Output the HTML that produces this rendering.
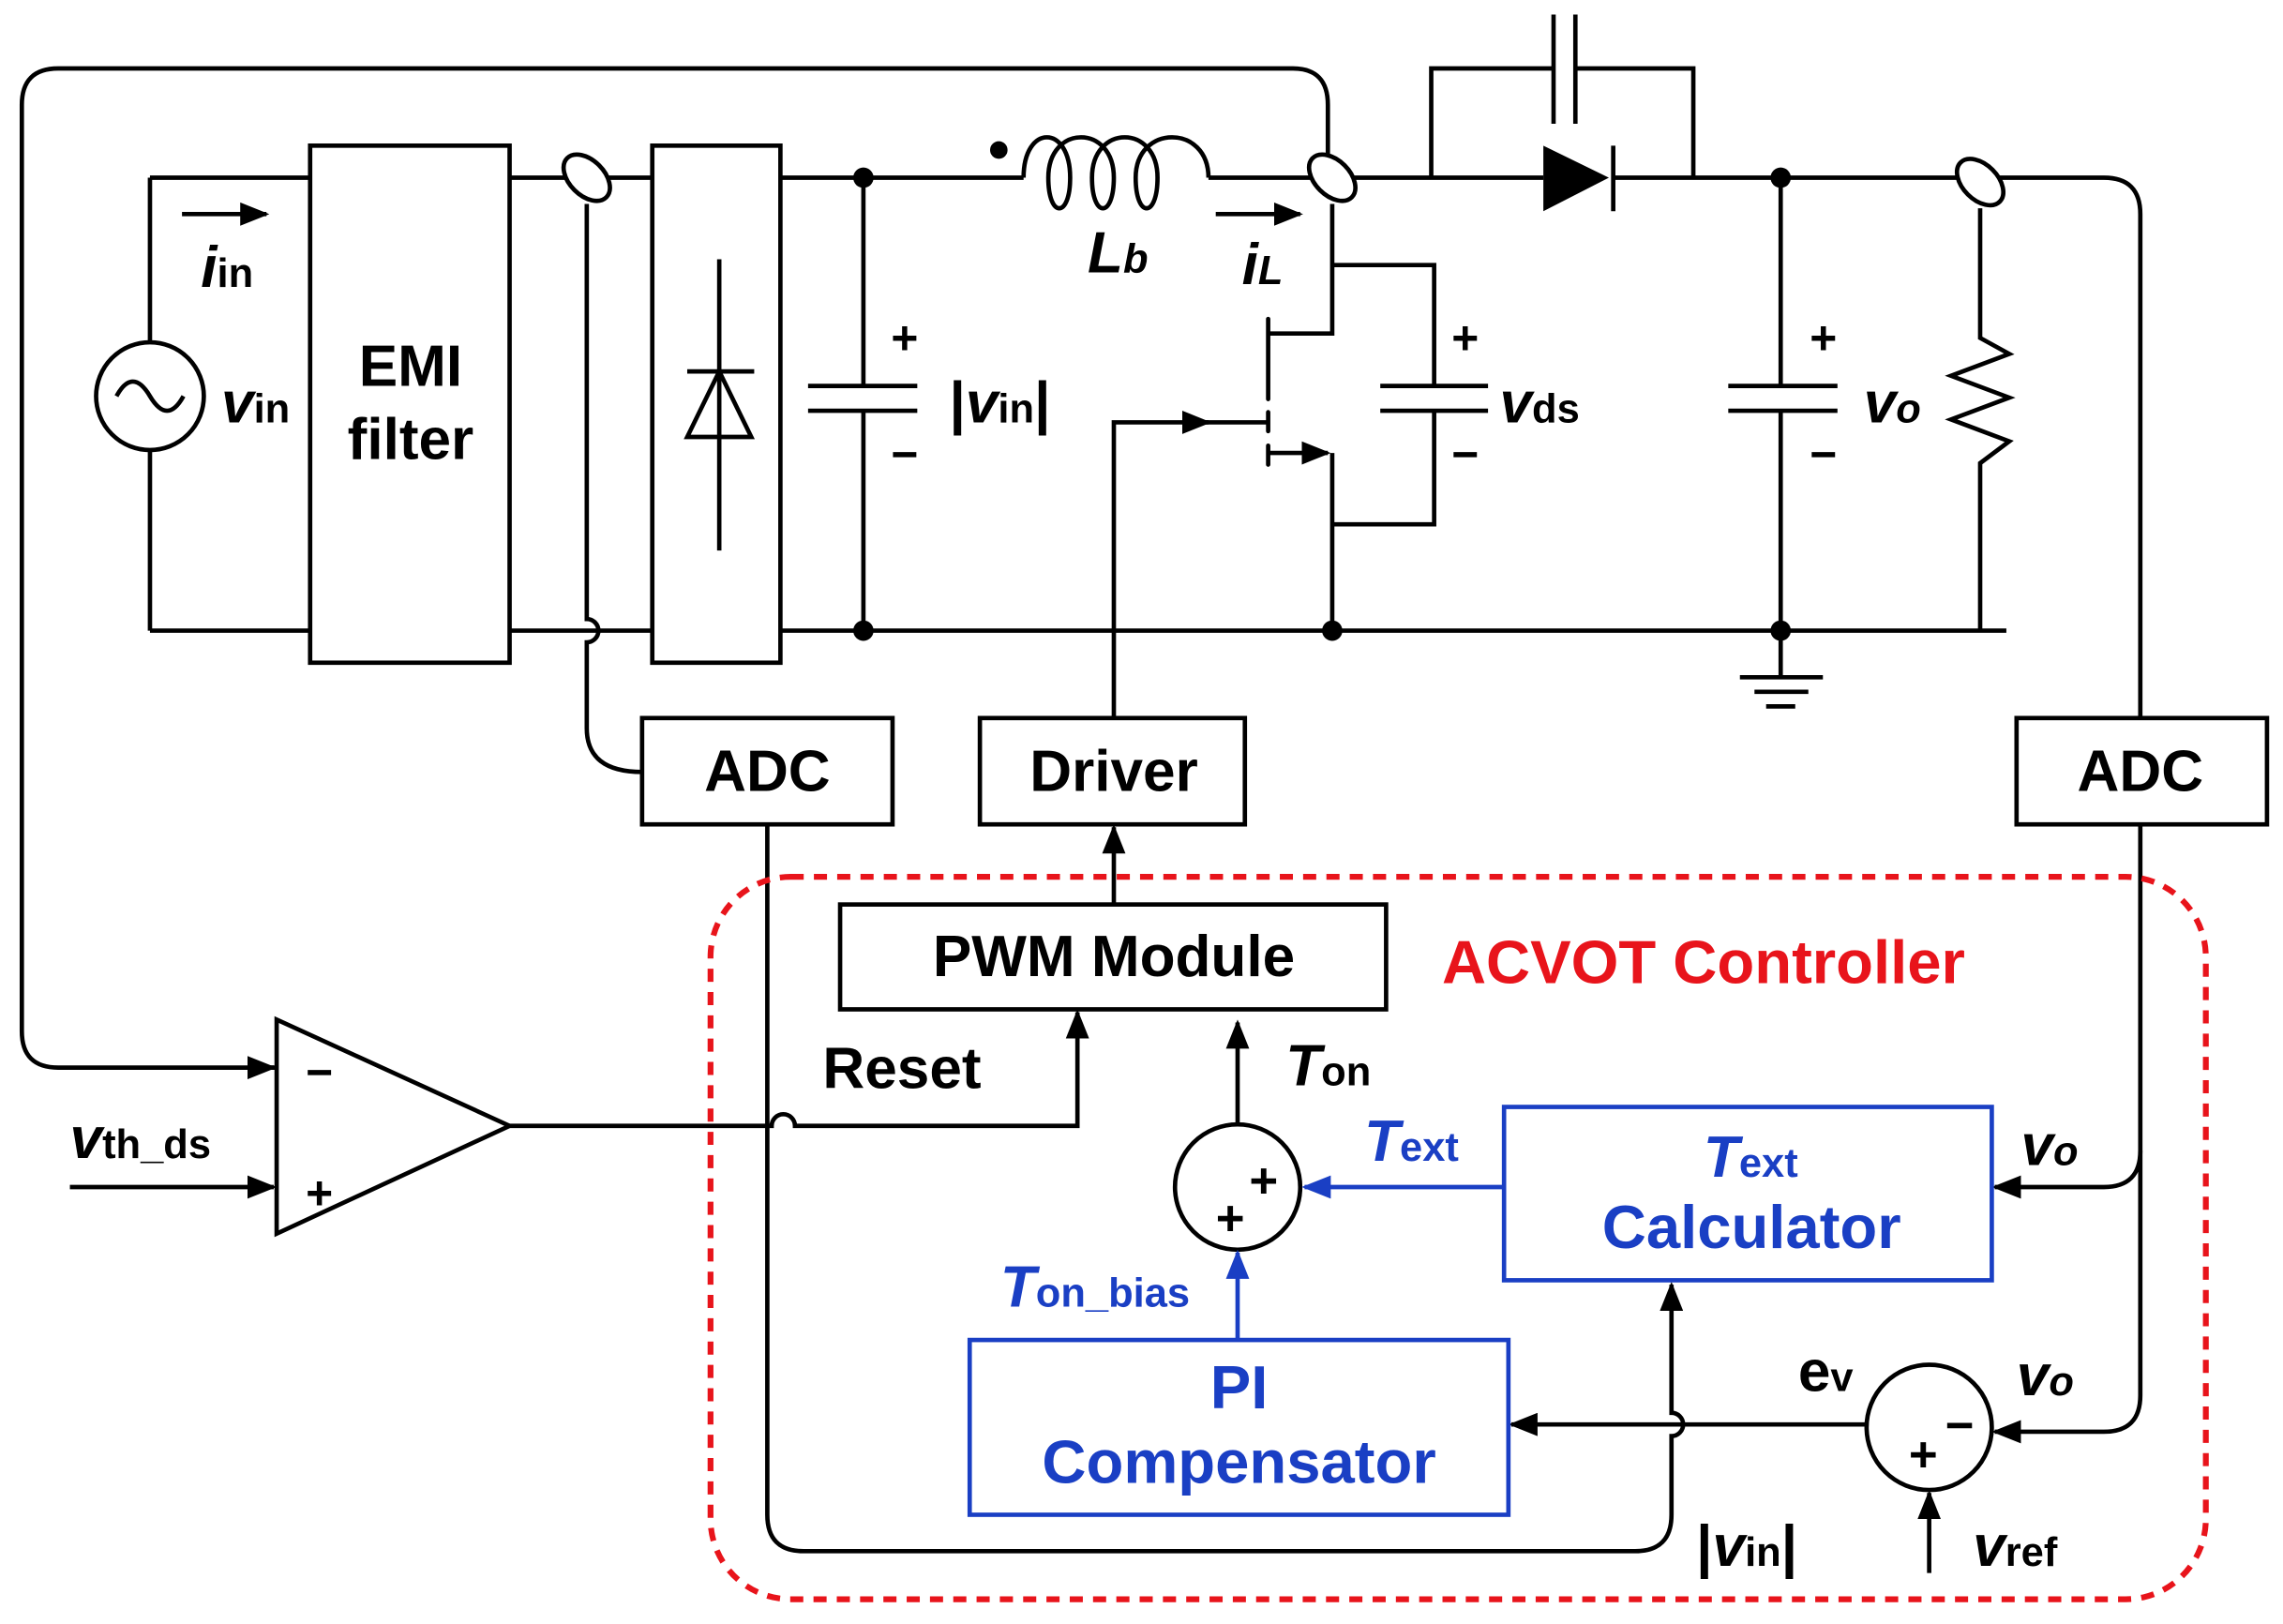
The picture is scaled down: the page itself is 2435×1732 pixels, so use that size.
<!DOCTYPE html>
<html><head><meta charset="utf-8"><style>
html,body{margin:0;padding:0;background:#fff}
svg{display:block}
text{font-family:"Liberation Sans",Arial,sans-serif;font-weight:bold}
</style></head><body>
<svg width="2435" height="1732" viewBox="0 0 1568 1115" preserveAspectRatio="none" xmlns="http://www.w3.org/2000/svg">
<defs>
<marker id="ab" markerWidth="20" markerHeight="16" refX="18" refY="8" orient="auto" markerUnits="userSpaceOnUse"><path d="M0,0 L20,8 L0,16z" fill="#000"/></marker>
<marker id="bb" markerWidth="20" markerHeight="16" refX="18" refY="8" orient="auto" markerUnits="userSpaceOnUse"><path d="M0,0 L20,8 L0,16z" fill="#1a3fc4"/></marker>
</defs>
<g fill="none" stroke="#000" stroke-width="3">
<path d="M190,733 H40 Q15,733 15,708 V72 Q15,47 40,47 H888 Q912,47 912,72 V110"/>
<path d="M103,122 H213 M350,122 H448 M536,122 H703 M830,122 H983 M983,122 V47 H1066 M1082,47 H1163 V122 M983,122 H1060 M1108,122 H1445 Q1470,122 1470,147 V493"/>
<path d="M103,433 H213 M350,433 H448 M536,433 H1378"/>
<path d="M103,122 V235 M103,310 V433"/>
<circle cx="103" cy="272" r="37"/>
<path d="M80,272 Q91,252 103,272 T126,272"/>
<rect x="213" y="100" width="137" height="355"/>
<rect x="448" y="100" width="88" height="355"/>
<path d="M494,178 V378 M472,255 H518"/>
<path d="M494,255 L472,300 H516 Z"/>
<ellipse cx="403" cy="122" rx="12" ry="19" transform="rotate(-45 403 122)" fill="#fff"/>
<path d="M403,140 V425 A8,8 0 0 1 403,441 V500 Q403,530 441,530"/>
<path d="M593,122 V265 M555,265 H630 M555,282 H630 M593,282 V433"/>
<path d="M703,122 C703,85 735,85 735,122 C735,150 720,150 720,122 C720,85 765,85 765,122 C765,150 750,150 750,122 C750,85 795,85 795,122 C795,150 780,150 780,122 C780,85 830,85 830,122"/>
<ellipse cx="915" cy="122" rx="12" ry="19" transform="rotate(-45 915 122)" fill="#fff"/>
<path d="M915,140 V229 H871 M915,182 H985 V265 M948,265 H1022 M948,282 H1022 M985,282 V360 H915 M915,311 V433"/>
<path d="M871,219 V274 M871,283 V296 M871,306 V319" stroke-linecap="round"/>
<path d="M871,311 H912" marker-end="url(#ab)"/>
<path d="M765,493 V290 H830" marker-end="url(#ab)"/>
<path d="M828,290 H871"/>
<path d="M1067,10 V85 M1082,10 V85"/>
<path d="M1108,100 V145"/>
<path d="M1223,122 V265 M1187,265 H1262 M1187,282 H1262 M1223,282 V465 M1195,465 H1252 M1205,475 H1242 M1213,485 H1233"/>
<ellipse cx="1360" cy="125" rx="12" ry="19" transform="rotate(-45 1360 125)" fill="#fff"/>
<path d="M1360,143 V232 L1380,243 L1340,258 L1380,273 L1340,288 L1380,303 L1360,318 V433"/>
<rect x="441" y="493" width="172" height="73"/>
<rect x="673" y="493" width="182" height="73"/>
<rect x="1385" y="493" width="172" height="73"/>
<rect x="577" y="621" width="375" height="72"/>
<path d="M765,621 V568" marker-end="url(#ab)"/>
<path d="M190,700 V847 L350,773 Z"/>
<path d="M48,815 H188" marker-end="url(#ab)"/>
<path d="M170,733 H188" marker-end="url(#ab)"/>
<path d="M350,773 H530 A8,8 0 0 1 546,773 H740 V695" marker-end="url(#ab)"/>
<path d="M527,566 V1040 Q527,1065 552,1065 H1123 Q1148,1065 1148,1040 V986 A8,8 0 0 0 1148,970 V882" marker-end="url(#ab)"/>
<circle cx="850" cy="815" r="43"/>
<path d="M850,772 V702" marker-end="url(#ab)"/>
<path d="M1470,566 V790 Q1470,815 1445,815 H1370" marker-end="url(#ab)"/>
<path d="M1470,790 V958 Q1470,983 1445,983 H1370" marker-end="url(#ab)"/>
<circle cx="1325" cy="980" r="43"/>
<path d="M1325,1080 V1025" marker-end="url(#ab)"/>
<path d="M1282,978 H1038" marker-end="url(#ab)"/>
</g>
<g fill="#000">
<path d="M1060,100 L1105,122 L1060,145 Z"/>
<circle cx="593" cy="122" r="7"/><circle cx="593" cy="433" r="7"/>
<circle cx="915" cy="433" r="7"/><circle cx="1223" cy="122" r="7"/><circle cx="1223" cy="433" r="7"/>
<circle cx="686" cy="103" r="6"/>
</g>
<g stroke="#000" stroke-width="3">
<path d="M125,147 H183" marker-end="url(#ab)"/>
<path d="M835,147 H893" marker-end="url(#ab)"/>
</g>
<g fill="none" stroke="#1a3fc4" stroke-width="3">
<rect x="1033" y="760" width="335" height="119"/>
<rect x="666" y="920" width="370" height="120"/>
<path d="M1033,815 H896" marker-end="url(#bb)"/>
<path d="M850,920 V860" marker-end="url(#bb)"/>
</g>
<rect x="488" y="602" width="1027" height="496" rx="55" fill="none" stroke="#e8141b" stroke-width="4" stroke-dasharray="9,7"/>
<g font-size="40">
<text x="282" y="265" text-anchor="middle">EMI</text>
<text x="282" y="315" text-anchor="middle">filter</text>
<text x="527" y="543" text-anchor="middle">ADC</text>
<text x="765" y="543" text-anchor="middle">Driver</text>
<text x="1470" y="543" text-anchor="middle">ADC</text>
<text x="765" y="670" text-anchor="middle">PWM Module</text>
<text x="565" y="747">Reset</text>
<text x="1170" y="675" text-anchor="middle" fill="#e8141b" font-size="42">ACVOT Controller</text>
<text x="612" y="243" font-size="32">+</text>
<text x="612" y="323" font-size="32">−</text>
<text x="997" y="243" font-size="32">+</text>
<text x="997" y="323" font-size="32">−</text>
<text x="1243" y="243" font-size="32">+</text>
<text x="1243" y="323" font-size="32">−</text>
<text x="210" y="747" font-size="32">−</text>
<text x="210" y="830" font-size="32">+</text>
<text x="858" y="822" font-size="34">+</text>
<text x="835" y="848" font-size="34">+</text>
<text x="1336" y="990" font-size="34">−</text>
<text x="1311" y="1010" font-size="34">+</text>
<text x="138" y="197" font-style="italic">i<tspan font-style="normal" font-size="28">in</tspan></text>
<text x="152" y="290" font-style="italic">v<tspan font-style="normal" font-size="28">in</tspan></text>
<text x="652" y="290">|<tspan font-style="italic">v</tspan><tspan font-size="28">in</tspan>|</text>
<text x="747" y="187" font-style="italic">L<tspan font-size="28">b</tspan></text>
<text x="853" y="195" font-style="italic">i<tspan font-size="28">L</tspan></text>
<text x="1030" y="290" font-style="italic">v<tspan font-style="normal" font-size="28">ds</tspan></text>
<text x="1280" y="290" font-style="italic">v<tspan font-size="28">o</tspan></text>
<text x="48" y="795" font-style="italic">v<tspan font-style="normal" font-size="28">th_ds</tspan></text>
<text x="883" y="745" font-style="italic">T<tspan font-style="normal" font-size="28">on</tspan></text>
<text x="1388" y="800" font-style="italic">v<tspan font-size="28">o</tspan></text>
<text x="1385" y="958" font-style="italic">v<tspan font-size="28">o</tspan></text>
<text x="1235" y="955">e<tspan font-size="28">v</tspan></text>
<text x="1355" y="1075" font-style="italic">v<tspan font-style="normal" font-size="28">ref</tspan></text>
<text x="1165" y="1075">|<tspan font-style="italic">v</tspan><tspan font-size="28">in</tspan>|</text>
<g fill="#1a3fc4">
<text x="937" y="797" font-style="italic">T<tspan font-style="normal" font-size="28">ext</tspan></text>
<text x="1170" y="808" font-style="italic">T<tspan font-style="normal" font-size="28">ext</tspan></text>
<text x="1203" y="857" text-anchor="middle" font-size="42">Calculator</text>
<text x="687" y="897" font-style="italic">T<tspan font-style="normal" font-size="28">on_bias</tspan></text>
<text x="851" y="967" text-anchor="middle" font-size="42">PI</text>
<text x="851" y="1018" text-anchor="middle" font-size="42">Compensator</text>
</g>
</g>
</svg>
</body></html>
